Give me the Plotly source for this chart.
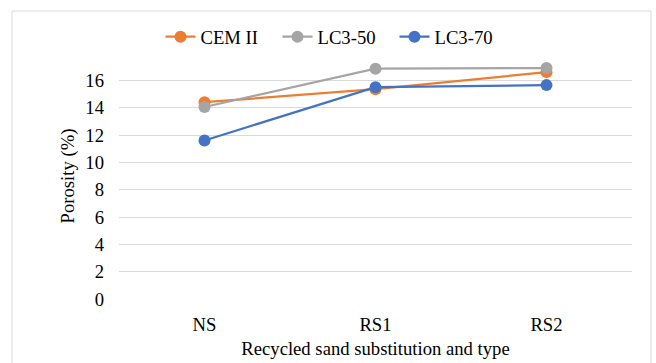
import plotly.graph_objects as go

categories = ["NS", "RS1", "RS2"]
cem_ii = [14.4, 15.35, 16.6]
lc3_50 = [14.05, 16.85, 16.9]
lc3_70 = [11.6, 15.5, 15.65]
y_ticks = [0, 2, 4, 6, 8, 10, 12, 14, 16]

series = [("CEM II", cem_ii, "#ED7D31"), ("LC3-50", lc3_50, "#A5A5A5"), ("LC3-70", lc3_70, "#4472C4")]

fig = go.Figure()
for name, vals, col in series:
    fig.add_trace(go.Scatter(x=categories, y=vals, name=name, mode="lines+markers",
                             line=dict(color=col, width=2.25),
                             marker=dict(color=col, size=12)))

W, H = 656, 363
L, R, T, B = 119, 24, 53, 64
pw, ph = W - L - R, H - T - B

def px(x):
    return (x - L) / pw

def py(y):
    return (H - B - y) / ph

fam = "Liberation Serif, Times New Roman, serif"
fs = 18.67
def f(size=fs):
    return dict(family=fam, size=size, color="#000000")

fig.update_layout(
    width=W, height=H, margin=dict(l=L, r=R, t=T, b=B, autoexpand=False),
    paper_bgcolor="white", plot_bgcolor="white",
    font=f(),
    showlegend=True,
    legend=dict(orientation="h", x=px(336), xanchor="center", y=py(37), yanchor="middle",
                font=f(), bgcolor="rgba(0,0,0,0)", entrywidth=72, entrywidthmode="pixels",
                tracegroupgap=0),
    xaxis=dict(type="category", range=[-0.5, 2.5], showgrid=False, zeroline=False,
               showline=False, ticks="", tickfont=f(), ticklabelstandoff=12, automargin=False,
               title=dict(text="Recycled sand substitution and type", font=f(), standoff=8)),
    yaxis=dict(range=[0, 18], tickvals=y_ticks, showgrid=True, gridcolor="#D9D9D9", gridwidth=1,
               zeroline=False, showline=False, ticks="", tickfont=f(), ticklabelstandoff=14,
               automargin=False,
               title=dict(text="Porosity (%)", font=f(), standoff=5)),
    shapes=[dict(type="rect", xref="paper", yref="paper",
                 x0=px(12), x1=px(651), y0=py(380), y1=py(11),
                 line=dict(color="#D9D9D9", width=1), fillcolor="rgba(0,0,0,0)", layer="below")],
)

fig.write_html("out.html")
